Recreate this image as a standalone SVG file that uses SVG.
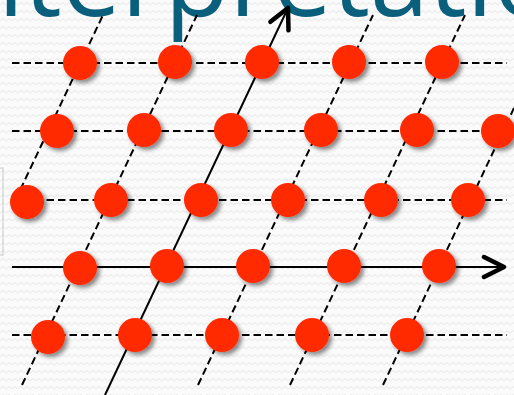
<svg xmlns="http://www.w3.org/2000/svg" width="514" height="395" viewBox="0 0 514 395">
  <defs>
    <pattern id="bg" width="12" height="8" patternUnits="userSpaceOnUse">
      <rect width="12" height="8" fill="#fbfbfb"/>
      <polyline points="0,5 3,2.5 6,5 9,2.5 12,5" fill="none" stroke="#ededed" stroke-width="1.3"/>
    </pattern>
    <filter id="sh" x="-40%" y="-40%" width="190%" height="190%">
      <feDropShadow dx="3" dy="3" stdDeviation="2" flood-color="#000" flood-opacity="0.45"/>
    </filter>
    <marker id="arr" markerUnits="userSpaceOnUse" markerWidth="40" markerHeight="40" viewBox="-30 -20 40 40" refX="0" refY="0" orient="auto" overflow="visible">
      <path d="M-20,-10 L0,0 L-20,10" fill="none" stroke="#000" stroke-width="4.5" stroke-linecap="round" stroke-linejoin="round"/>
    </marker>
  </defs>
  <style>
    .dash { stroke: #000; stroke-width: 2; stroke-dasharray: 7.5 4; fill: none; }
    .axis { stroke: #000; stroke-width: 2; fill: none; marker-end: url(#arr); }
    .dot { fill: #ff2a00; filter: url(#sh); }
    .title { font-family: "Open Sans", "Liberation Sans", sans-serif; font-size: 108px; fill: #0a5f7c; }
  </style>
  <rect width="514" height="395" fill="url(#bg)"/>
  <rect x="-5" y="168" width="8" height="87" fill="none" stroke="#c8c8c8" stroke-width="1"/>
  <text class="title" x="-41" y="16" textLength="598" lengthAdjust="spacingAndGlyphs">nterpretatio</text>

  <g id="connectors">
    <!-- horizontal dashed rows -->
    <line class="dash" x1="12" y1="63" x2="507" y2="63"/>
    <line class="dash" x1="12" y1="131" x2="514" y2="131"/>
    <line class="dash" x1="12" y1="200" x2="507" y2="200"/>
    <line class="dash" x1="12" y1="335" x2="507" y2="335"/>
    <!-- slanted dashed lines -->
    <line class="dash" x1="15.4" y1="200" x2="103" y2="15"/>
    <line class="dash" x1="22" y1="385" x2="197" y2="15"/>
    <line class="dash" x1="198" y1="385" x2="373" y2="15"/>
    <line class="dash" x1="290" y1="385" x2="465" y2="15"/>
    <line class="dash" x1="383" y1="385" x2="514" y2="108"/>
    <!-- axes -->
    <line class="axis" x1="12" y1="267" x2="504" y2="267"/>
    <line class="axis" x1="105" y1="395" x2="288" y2="8"/>
  </g>

  <g id="row1">
    <g id="n1a"><circle class="dot" cx="80" cy="63" r="17"/></g>
    <g id="n1b"><circle class="dot" cx="175" cy="62" r="17"/></g>
    <g id="n1c"><circle class="dot" cx="262" cy="62" r="17"/></g>
    <g id="n1d"><circle class="dot" cx="349" cy="62" r="17"/></g>
    <g id="n1e"><circle class="dot" cx="442" cy="62" r="17"/></g>
  </g>
  <g id="row2">
    <g id="n2a"><circle class="dot" cx="57" cy="131" r="17"/></g>
    <g id="n2b"><circle class="dot" cx="144" cy="130" r="17"/></g>
    <g id="n2c"><circle class="dot" cx="231" cy="130" r="17"/></g>
    <g id="n2d"><circle class="dot" cx="321" cy="130" r="17"/></g>
    <g id="n2e"><circle class="dot" cx="417" cy="130" r="17"/></g>
    <g id="n2f"><circle class="dot" cx="498" cy="131" r="17"/></g>
  </g>
  <g id="row3">
    <g id="n3a"><circle class="dot" cx="27" cy="202" r="17"/></g>
    <g id="n3b"><circle class="dot" cx="111" cy="200" r="17"/></g>
    <g id="n3c"><circle class="dot" cx="201" cy="200" r="17"/></g>
    <g id="n3d"><circle class="dot" cx="288" cy="200" r="17"/></g>
    <g id="n3e"><circle class="dot" cx="381" cy="200" r="17"/></g>
    <g id="n3f"><circle class="dot" cx="468" cy="200" r="17"/></g>
  </g>
  <g id="row4">
    <g id="n4a"><circle class="dot" cx="80" cy="268" r="17"/></g>
    <g id="n4b"><circle class="dot" cx="167" cy="266" r="17"/></g>
    <g id="n4c"><circle class="dot" cx="253" cy="266" r="17"/></g>
    <g id="n4d"><circle class="dot" cx="344" cy="266" r="17"/></g>
    <g id="n4e"><circle class="dot" cx="439" cy="266" r="17"/></g>
  </g>
  <g id="row5">
    <g id="n5a"><circle class="dot" cx="48" cy="337" r="17"/></g>
    <g id="n5b"><circle class="dot" cx="135" cy="335" r="17"/></g>
    <g id="n5c"><circle class="dot" cx="222" cy="335" r="17"/></g>
    <g id="n5d"><circle class="dot" cx="312" cy="335" r="17"/></g>
    <g id="n5e"><circle class="dot" cx="407" cy="335" r="17"/></g>
  </g>
</svg>
